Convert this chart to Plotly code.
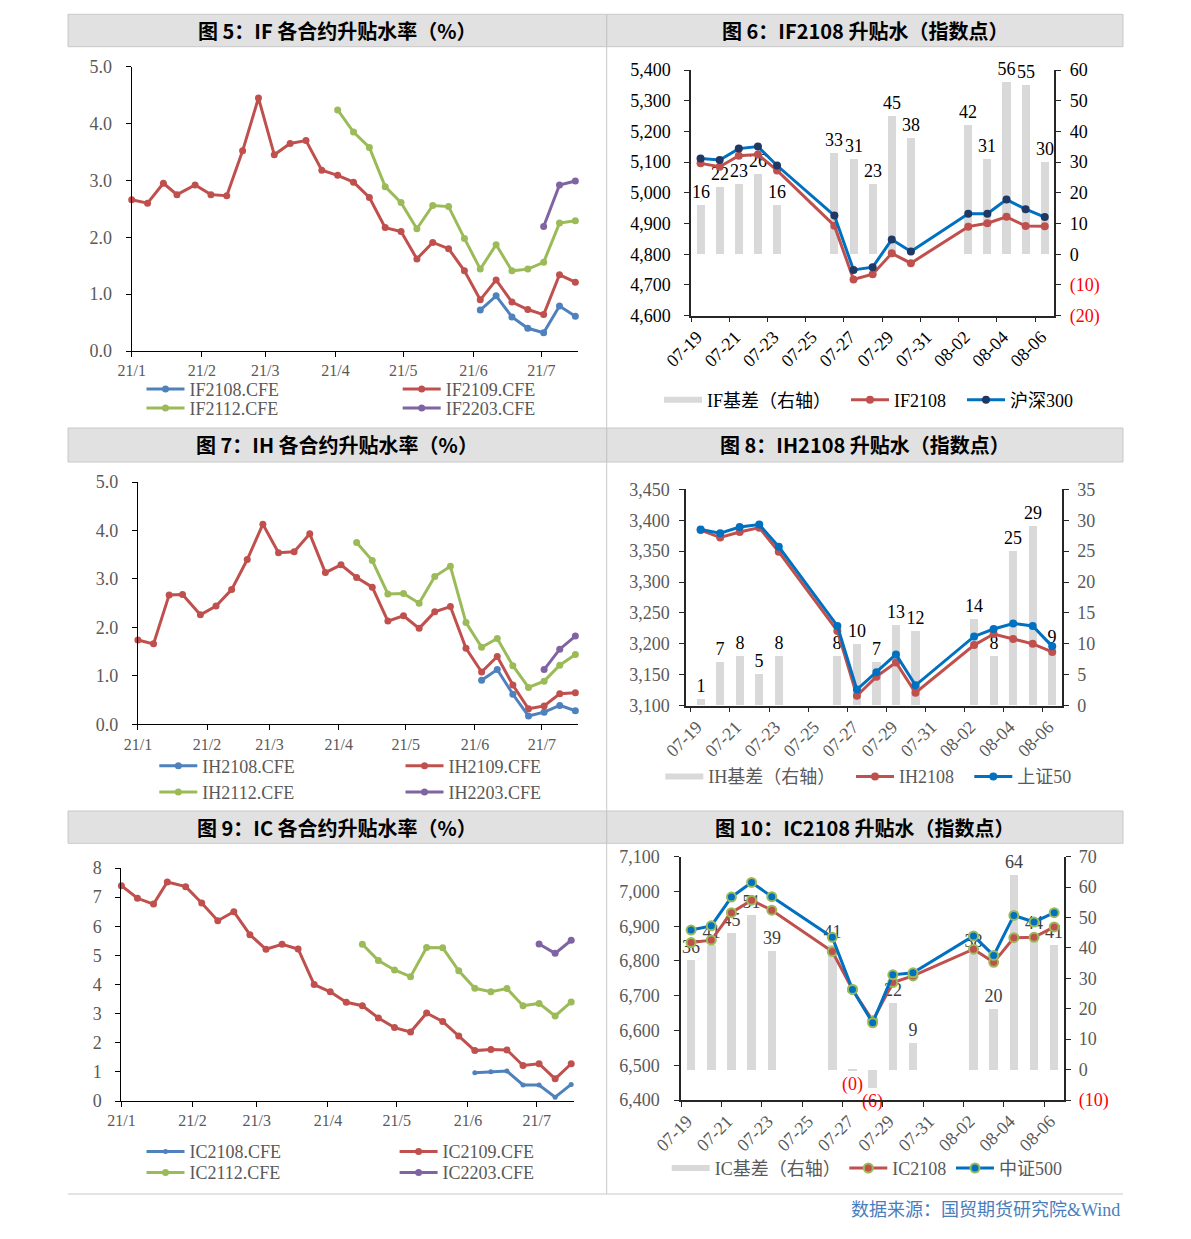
import plotly.graph_objects as go

W, H = 1191, 1239

# ---------------- data ----------------
week_dates = ["2021-01-01", "2021-01-08", "2021-01-15", "2021-01-21", "2021-01-29",
              "2021-02-05", "2021-02-12", "2021-02-19", "2021-02-26",
              "2021-03-05", "2021-03-12", "2021-03-19", "2021-03-26",
              "2021-04-02", "2021-04-09", "2021-04-16", "2021-04-23", "2021-04-30",
              "2021-05-07", "2021-05-14", "2021-05-21", "2021-05-28",
              "2021-06-04", "2021-06-11", "2021-06-18", "2021-06-25",
              "2021-07-02", "2021-07-09", "2021-07-16"]
month_ticks = ["2021-01-01", "2021-02-01", "2021-03-01", "2021-04-01",
               "2021-05-01", "2021-06-01", "2021-07-01"]
month_labels = ["21/1", "21/2", "21/3", "21/4", "21/5", "21/6", "21/7"]

# Fig 5 IF (%)
if2108 = [0.72, 0.97, 0.60, 0.40, 0.32, 0.79, 0.61]
if2109 = [2.66, 2.60, 2.95, 2.75, 2.92, 2.75, 2.73, 3.52, 4.45, 3.45, 3.65, 3.70, 3.18, 3.09, 2.97,
          2.70, 2.17, 2.10, 1.62, 1.91, 1.80, 1.41, 0.90, 1.25, 0.86, 0.73, 0.64, 1.34, 1.21]
if2112 = [4.24, 3.85, 3.58, 2.89, 2.61, 2.15, 2.56, 2.54, 1.98, 1.44, 1.87, 1.41, 1.44, 1.56, 2.25, 2.29]
if2203 = [2.19, 2.92, 2.99]

# Fig 7 IH (%)
ih2108 = [0.91, 1.13, 0.62, 0.17, 0.25, 0.39, 0.28]
ih2109 = [1.74, 1.66, 2.67, 2.68, 2.26, 2.44, 2.78, 3.40, 4.13, 3.54, 3.56, 3.93, 3.13, 3.29, 3.03,
          2.83, 2.13, 2.24, 1.98, 2.32, 2.43, 1.57, 1.08, 1.40, 0.81, 0.32, 0.38, 0.63, 0.65]
ih2112 = [3.75, 3.38, 2.69, 2.70, 2.50, 3.05, 3.26, 2.10, 1.59, 1.77, 1.21, 0.76, 0.89, 1.22, 1.44]
ih2203 = [1.13, 1.55, 1.82]

# Fig 9 IC (%)
ic2108 = [0.97, 1.00, 1.03, 0.55, 0.55, 0.13, 0.57]
ic2109 = [7.39, 6.96, 6.76, 7.52, 7.36, 6.80, 6.19, 6.50, 5.71, 5.21, 5.38, 5.22, 4.00, 3.75, 3.39,
          3.27, 2.85, 2.52, 2.37, 3.02, 2.73, 2.23, 1.73, 1.77, 1.75, 1.22, 1.28, 0.76, 1.28]
ic2112 = [5.38, 4.82, 4.50, 4.27, 5.27, 5.26, 4.47, 3.87, 3.75, 3.86, 3.27, 3.35, 2.92, 3.40]
ic2203 = [5.39, 5.07, 5.52]

# daily (right panels)
day_dates = ["2021-07-19", "2021-07-20", "2021-07-21", "2021-07-22", "2021-07-23",
             "2021-07-26", "2021-07-27", "2021-07-28", "2021-07-29", "2021-07-30",
             "2021-08-02", "2021-08-03", "2021-08-04", "2021-08-05", "2021-08-06"]

# Fig 6
if_basis = [16, 22, 23, 26, 16, 33, 31, 23, 45, 38, 42, 31, 56, 55, 30]
if_basis_labels = ["16", "22", "23", "26", "16", "33", "31", "23", "45", "38", "42", "31", "56", "55", "30"]
if2108_px = [5096, 5085, 5121, 5125, 5073, 4893, 4718, 4735, 4803, 4771, 4890, 4901, 4922, 4892, 4891]
hs300 = [5112, 5107, 5144, 5151, 5089, 4926, 4749, 4758, 4848, 4809, 4932, 4932, 4978, 4947, 4921]
f6_right_ticks = [-20, -10, 0, 10, 20, 30, 40, 50, 60]
f6_right_labels = ["(20)", "(10)", "0", "10", "20", "30", "40", "50", "60"]

# Fig 8
ih_basis = [1, 7, 8, 5, 8, 8, 10, 7, 13, 12, 14, 8, 25, 29, 9]
ih_basis_labels = ["1", "7", "8", "5", "8", "8", "10", "7", "13", "12", "14", "8", "25", "29", "9"]
ih2108_px = [3384, 3372, 3381, 3388, 3349, 3221, 3116, 3147, 3170, 3121, 3198, 3216, 3208, 3200, 3187]
sz50 = [3385, 3379, 3389, 3393, 3357, 3229, 3126, 3154, 3183, 3133, 3212, 3224, 3233, 3229, 3196]

# Fig 10
ic_basis = [36, 41, 45, 51, 39, 41, -0.3, -6, 22, 9, 38, 20, 64, 44, 41]
ic_basis_labels = ["36", "41", "45", "51", "39", "41", "(0)", "(6)", "22", "9", "38", "20", "64", "44", "41"]
ic2108_px = [6853, 6860, 6939, 6975, 6946, 6827, 6718, 6628, 6738, 6757, 6834, 6796, 6867, 6868, 6898]
zz500 = [6889, 6901, 6984, 7026, 6985, 6868, 6718, 6622, 6760, 6766, 6872, 6816, 6931, 6912, 6939]
f10_right_ticks = [-10, 0, 10, 20, 30, 40, 50, 60, 70]
f10_right_labels = ["(10)", "0", "10", "20", "30", "40", "50", "60", "70"]

# ---------------- styling ----------------
SERIF = "Liberation Serif, Times New Roman, serif"
SERIF_CJK = "Liberation Serif, Noto Sans CJK SC, sans-serif"
SANS_CJK = "Noto Sans CJK SC, sans-serif"
GRAY = "#595959"
BLACK = "#000000"
C_BLUE = "#4f81bd"
C_RED = "#c0504d"
C_GREEN = "#9bbb59"
C_PURPLE = "#8064a2"
C_BLUE2 = "#0070c0"
C_BAR = "#d9d9d9"
DAY_MS = 86400000


def fx(a, b):
    return [a / W, b / W]


def fy(top, bot):
    return [1 - bot / H, 1 - top / H]


def red_ticks(labels):
    return [f"<span style='color:#ff0000'>{t}</span>" if t.startswith("(") else t for t in labels]


legends = {}
legend_count = [0]


def new_legend(x_px, y_px, color):
    legend_count[0] += 1
    n = legend_count[0]
    key = "legend" if n == 1 else f"legend{n}"
    legends[key] = dict(x=x_px / W, y=1 - y_px / H, xanchor="left", yanchor="middle",
                        orientation="v", bgcolor="rgba(0,0,0,0)", borderwidth=0,
                        font=dict(family=SERIF_CJK, size=18, color=color),
                        itemwidth=38, tracegroupgap=0)
    return key


fig = go.Figure()


def add_line(x, y, name, color, xa, ya, leg, msize=7, mcolor=None, mline_color=None, mline_w=0):
    fig.add_trace(go.Scatter(
        x=x, y=y, name=name, mode="lines+markers",
        line=dict(color=color, width=3),
        marker=dict(size=msize, color=mcolor or color,
                    line=dict(color=mline_color or color, width=mline_w)),
        xaxis=xa, yaxis=ya, legend=leg, cliponaxis=False, hoverinfo="skip"))


def add_bar_proxy(name, xa, ya, leg):
    fig.add_trace(go.Scatter(x=[None], y=[None], name=name, mode="none", fill="toself",
                             fillcolor=C_BAR, xaxis=xa, yaxis=ya, legend=leg, hoverinfo="skip"))


def add_bars(y, labels, xa, ya, label_colors):
    fig.add_trace(go.Bar(
        x=day_dates, y=y, xperiod=DAY_MS, xperiodalignment="middle",
        width=0.42 * DAY_MS, marker=dict(color=C_BAR, line=dict(width=0)),
        text=labels, textposition="outside", constraintext="none",
        textfont=dict(family=SERIF, size=18, color=label_colors),
        cliponaxis=False, showlegend=False, xaxis=xa, yaxis=ya, hoverinfo="skip"))


# ---------- Fig 5 ----------
lg = [new_legend(141.5, 389.3, GRAY), new_legend(397.7, 389.3, GRAY),
      new_legend(141.5, 408.3, GRAY), new_legend(397.7, 408.3, GRAY)]
add_line(week_dates[13:], if2112, "IF2112.CFE", C_GREEN, "x", "y", lg[2])
add_line(week_dates, if2109, "IF2109.CFE", C_RED, "x", "y", lg[1])
add_line(week_dates[22:], if2108, "IF2108.CFE", C_BLUE, "x", "y", lg[0])
add_line(week_dates[26:], if2203, "IF2203.CFE", C_PURPLE, "x", "y", lg[3])

# ---------- Fig 7 ----------
lg = [new_legend(154.3, 766, GRAY), new_legend(400.5, 766, GRAY),
      new_legend(154.3, 792.3, GRAY), new_legend(400.5, 792.3, GRAY)]
add_line(week_dates[14:], ih2112, "IH2112.CFE", C_GREEN, "x3", "y4", lg[2])
add_line(week_dates, ih2109, "IH2109.CFE", C_RED, "x3", "y4", lg[1])
add_line(week_dates[22:], ih2108, "IH2108.CFE", C_BLUE, "x3", "y4", lg[0])
add_line(week_dates[26:], ih2203, "IH2203.CFE", C_PURPLE, "x3", "y4", lg[3])

# ---------- Fig 9 ----------
lg = [new_legend(141.5, 1151.7, GRAY), new_legend(394.6, 1151.7, GRAY),
      new_legend(141.5, 1172.7, GRAY), new_legend(394.6, 1172.7, GRAY)]
add_line(week_dates[15:], ic2112, "IC2112.CFE", C_GREEN, "x5", "y7", lg[2])
add_line(week_dates, ic2109, "IC2109.CFE", C_RED, "x5", "y7", lg[1])
add_line(week_dates[22:], ic2108, "IC2108.CFE", C_BLUE, "x5", "y7", lg[0], msize=5)
add_line(week_dates[26:], ic2203, "IC2203.CFE", C_PURPLE, "x5", "y7", lg[3])

# ---------- Fig 6 ----------
lg = [new_legend(659, 400, BLACK), new_legend(846, 400, BLACK), new_legend(962, 400, BLACK)]
add_bars(if_basis, if_basis_labels, "x2", "y2", [BLACK] * len(if_basis))
add_bar_proxy("IF基差（右轴）", "x2", "y2", lg[0])
fig.add_trace(go.Scatter(x=day_dates, y=if2108_px, name="IF2108", mode="lines+markers",
                         xperiod=DAY_MS, xperiodalignment="middle",
                         line=dict(color=C_RED, width=3), marker=dict(size=8, color=C_RED),
                         xaxis="x2", yaxis="y3", legend=lg[1], cliponaxis=False, hoverinfo="skip"))
fig.add_trace(go.Scatter(x=day_dates, y=hs300, name="沪深300", mode="lines+markers",
                         xperiod=DAY_MS, xperiodalignment="middle",
                         line=dict(color=C_BLUE2, width=3), marker=dict(size=8, color="#1f3864"),
                         xaxis="x2", yaxis="y3", legend=lg[2], cliponaxis=False, hoverinfo="skip"))

# ---------- Fig 8 ----------
lg = [new_legend(660.3, 776.7, GRAY), new_legend(851, 776.7, GRAY), new_legend(969.3, 776.7, GRAY)]
add_bars(ih_basis, ih_basis_labels, "x4", "y5", [BLACK] * len(ih_basis))
add_bar_proxy("IH基差（右轴）", "x4", "y5", lg[0])
fig.add_trace(go.Scatter(x=day_dates, y=ih2108_px, name="IH2108", mode="lines+markers",
                         xperiod=DAY_MS, xperiodalignment="middle",
                         line=dict(color=C_RED, width=3), marker=dict(size=8, color=C_RED),
                         xaxis="x4", yaxis="y6", legend=lg[1], cliponaxis=False, hoverinfo="skip"))
fig.add_trace(go.Scatter(x=day_dates, y=sz50, name="上证50", mode="lines+markers",
                         xperiod=DAY_MS, xperiodalignment="middle",
                         line=dict(color=C_BLUE2, width=3), marker=dict(size=8, color=C_BLUE2),
                         xaxis="x4", yaxis="y6", legend=lg[2], cliponaxis=False, hoverinfo="skip"))

# ---------- Fig 10 ----------
lg = [new_legend(666.7, 1168.3, GRAY), new_legend(844.3, 1168.3, GRAY), new_legend(951, 1168.3, GRAY)]
add_bars(ic_basis, ic_basis_labels, "x6", "y8",
         ["#ff0000" if v < 0 else "#404040" for v in ic_basis])
add_bar_proxy("IC基差（右轴）", "x6", "y8", lg[0])
fig.add_trace(go.Scatter(x=day_dates, y=ic2108_px, name="IC2108", mode="lines+markers",
                         xperiod=DAY_MS, xperiodalignment="middle",
                         line=dict(color=C_RED, width=3),
                         marker=dict(size=9, color=C_RED, line=dict(color=C_GREEN, width=2)),
                         xaxis="x6", yaxis="y9", legend=lg[1], cliponaxis=False, hoverinfo="skip"))
fig.add_trace(go.Scatter(x=day_dates, y=zz500, name="中证500", mode="lines+markers",
                         xperiod=DAY_MS, xperiodalignment="middle",
                         line=dict(color=C_BLUE2, width=3),
                         marker=dict(size=9, color=C_BLUE2, line=dict(color=C_GREEN, width=2)),
                         xaxis="x6", yaxis="y9", legend=lg[2], cliponaxis=False, hoverinfo="skip"))


# ---------------- axes ----------------
def left_x(dom, anchor):
    return dict(domain=fx(*dom), anchor=anchor, type="date", automargin=False,
                range=["2021-01-01", "2021-07-17"], tickvals=month_ticks, ticktext=month_labels,
                ticks="outside", ticklen=5, tickwidth=1.3, tickcolor="#000",
                showline=True, linecolor="#000", linewidth=1.3,
                showgrid=False, zeroline=False, ticklabelstandoff=0,
                tickfont=dict(family=SERIF, size=16, color=GRAY))


def left_y(dom, anchor, rng, dtick, fmt):
    return dict(domain=fy(*dom), anchor=anchor, range=rng, dtick=dtick, tick0=0, tickformat=fmt,
                automargin=False,
                ticks="outside", ticklen=5, tickwidth=1.3, tickcolor="#000",
                showline=True, linecolor="#000", linewidth=1.3,
                showgrid=False, zeroline=False, ticklabelstandoff=10,
                tickfont=dict(family=SERIF, size=18, color=GRAY))


def right_x(dom, anchor, rng_start, color):
    return dict(domain=fx(*dom), anchor=anchor, type="date", automargin=False,
                range=[rng_start, "2021-08-07"], tick0="2021-07-19", dtick=2 * DAY_MS,
                tickformat="%m-%d", tickangle=-45,
                ticks="outside", ticklen=5, tickwidth=1.3, tickcolor="#262626",
                showline=True, linecolor="#262626", linewidth=1.5,
                showgrid=False, zeroline=False, ticklabelstandoff=-3, ticklabelshift=6,
                tickfont=dict(family=SERIF, size=18, color=color))


def right_bar_axis(dom, anchor, rng, tickvals, ticktext, color, standoff):
    return dict(domain=fy(*dom), anchor=anchor, side="right", range=rng, automargin=False,
                tickvals=tickvals, ticktext=red_ticks(ticktext),
                ticks="outside", ticklen=5, tickwidth=1.3, tickcolor="#262626",
                showline=True, linecolor="#262626", linewidth=1.5,
                showgrid=False, zeroline=False, ticklabelstandoff=standoff,
                tickfont=dict(family=SERIF, size=18, color=color))


def left_line_axis(over, anchor, rng, dtick, color, standoff):
    return dict(overlaying=over, anchor=anchor, side="left", range=rng, dtick=dtick,
                automargin=False,
                tickformat=",d", ticks="outside", ticklen=5, tickwidth=1.3, tickcolor="#262626",
                showline=True, linecolor="#262626", linewidth=1.5,
                showgrid=False, zeroline=False, ticklabelstandoff=standoff,
                tickfont=dict(family=SERIF, size=18, color=color))


axes = dict(
    xaxis=left_x((131.7, 577.6), "y"),
    yaxis=left_y((66.7, 351), "x", [0, 5], 1, ".1f"),
    xaxis3=left_x((137.9, 577.6), "y4"),
    yaxis4=left_y((482, 724.3), "x3", [0, 5], 1, ".1f"),
    xaxis5=left_x((121.4, 573.5), "y7"),
    yaxis7=left_y((868, 1101), "x5", [0, 8], 1, "d"),

    xaxis2=right_x((691, 1054.3), "y2", "2021-07-19", BLACK),
    yaxis2=right_bar_axis((70, 315.7), "x2", [-20, 60], f6_right_ticks, f6_right_labels, BLACK, 5),
    yaxis3=left_line_axis("y2", "x2", [4600, 5400], 100, BLACK, 10),

    xaxis4=right_x((686, 1062), "y5", "2021-07-18 18:00", GRAY),
    yaxis5=dict(domain=fy(489.3, 705.7), anchor="x4", side="right", range=[0, 35], dtick=5,
                automargin=False,
                ticks="outside", ticklen=5, tickwidth=1.3, tickcolor="#262626",
                showline=True, linecolor="#262626", linewidth=1.5,
                showgrid=False, zeroline=False, ticklabelstandoff=5,
                tickfont=dict(family=SERIF, size=18, color=GRAY)),
    yaxis6=left_line_axis("y5", "x4", [3100, 3450], 50, GRAY, 6),

    xaxis6=right_x((681, 1064.3), "y8", "2021-07-19", GRAY),
    yaxis8=right_bar_axis((856.7, 1100), "x6", [-10, 70], f10_right_ticks, f10_right_labels, GRAY, 4),
    yaxis9=left_line_axis("y8", "x6", [6400, 7100], 100, GRAY, 11),
)

# ---------------- frame ----------------
shapes = []
annotations = []
HDR_FILL = "#e1e1e1"
HDR_LINE = "#c8c8c8"
headers = [
    ((68, 14.3, 606.7, 46.7), "图 5：IF 各合约升贴水率（%）"),
    ((606.7, 14.3, 1123, 46.7), "图 6：IF2108 升贴水（指数点）"),
    ((68, 428, 606.7, 462), "图 7：IH 各合约升贴水率（%）"),
    ((606.7, 428, 1123, 462), "图 8：IH2108 升贴水（指数点）"),
    ((68, 811, 606.7, 843.3), "图 9：IC 各合约升贴水率（%）"),
    ((606.7, 811, 1123, 843.3), "图 10：IC2108 升贴水（指数点）"),
]
for (x0, y0, x1, y1), title in headers:
    shapes.append(dict(type="rect", xref="paper", yref="paper",
                       x0=x0 / W, x1=x1 / W, y0=1 - y1 / H, y1=1 - y0 / H,
                       fillcolor=HDR_FILL, line=dict(color=HDR_LINE, width=1), layer="below"))
    annotations.append(dict(xref="paper", yref="paper", x=(x0 + x1) / 2 / W, y=1 - (y0 + y1) / 2 / H,
                            xanchor="center", yanchor="middle", showarrow=False, text=title,
                            font=dict(family=SANS_CJK, size=20, color="#000", weight="bold")))

shapes.append(dict(type="line", xref="paper", yref="paper", x0=606.7 / W, x1=606.7 / W,
                   y0=1 - 1194 / H, y1=1 - 14.3 / H, line=dict(color=HDR_LINE, width=1)))
shapes.append(dict(type="line", xref="paper", yref="paper", x0=68 / W, x1=1123 / W,
                   y0=1 - 1194 / H, y1=1 - 1194 / H, line=dict(color=HDR_LINE, width=1)))

annotations.append(dict(xref="paper", yref="paper", x=1122 / W, y=1 - 1210 / H,
                        xanchor="right", yanchor="middle", showarrow=False,
                        text="数据来源：国贸期货研究院&Wind",
                        font=dict(family=SERIF_CJK, size=18, color="#4a7ebb")))

fig.update_layout(width=W, height=H, margin=dict(l=0, r=0, t=0, b=0, pad=0, autoexpand=False),
                  paper_bgcolor="white", plot_bgcolor="rgba(0,0,0,0)",
                  showlegend=True, bargap=0, shapes=shapes, annotations=annotations,
                  **axes, **legends)

fig.write_html("out.html", config={"displayModeBar": False},
               post_script="document.body.style.margin='0px';")
